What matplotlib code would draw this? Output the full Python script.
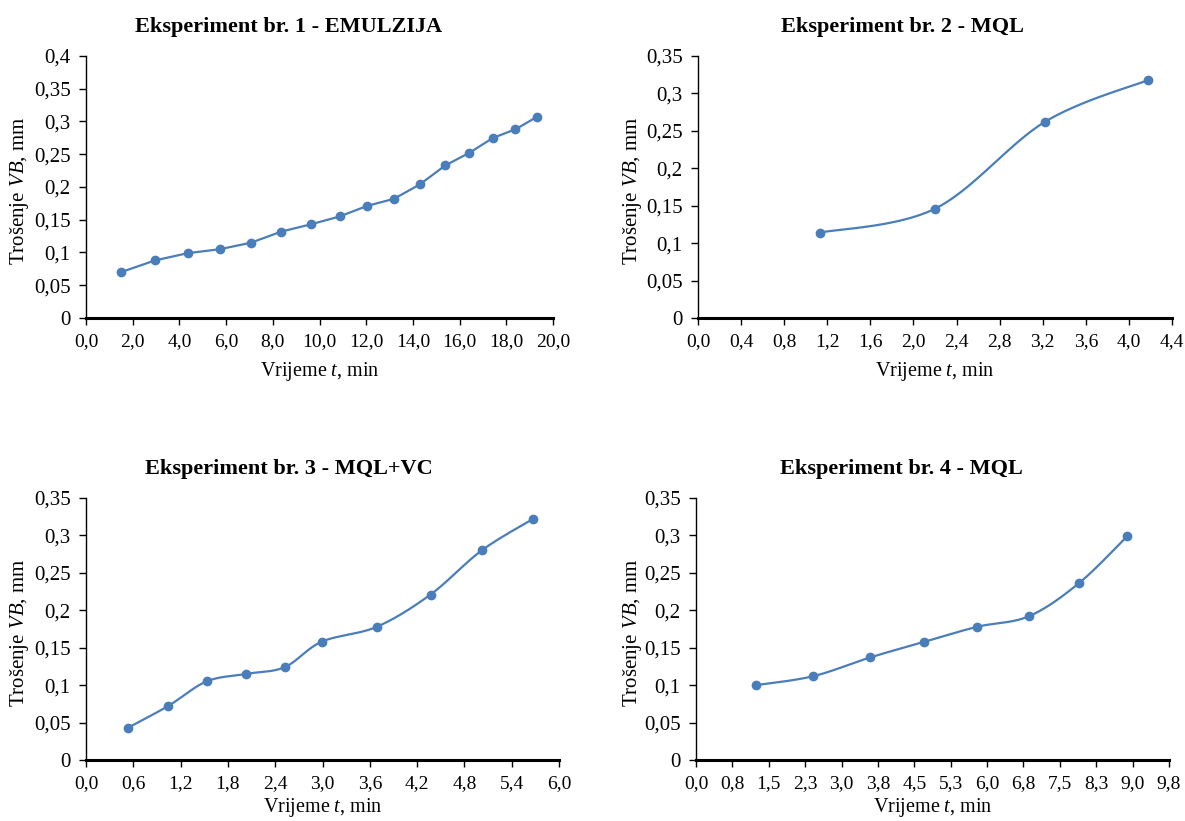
import numpy as np
import matplotlib
matplotlib.use("Agg")
import matplotlib.pyplot as plt

plt.rcParams['font.family'] = ['Liberation Serif', 'DejaVu Serif']
plt.rcParams['mathtext.fontset'] = 'custom'
plt.rcParams['mathtext.rm'] = 'Liberation Serif'
plt.rcParams['mathtext.it'] = 'Liberation Serif:italic'

# ---- data ----
t1 = [1.50, 2.96, 4.36, 5.73, 7.07, 8.37, 9.63, 10.86, 12.03, 13.19, 14.30, 15.39, 16.41, 17.43, 18.39, 19.31]
vb1 = [0.070, 0.088, 0.099, 0.105, 0.115, 0.132, 0.143, 0.155, 0.171, 0.182, 0.204, 0.233, 0.252, 0.275, 0.288, 0.307]

t2 = [1.13, 2.20, 3.22, 4.18]
vb2 = [0.114, 0.146, 0.262, 0.318]

t3 = [0.53, 1.04, 1.53, 2.03, 2.52, 2.99, 3.69, 4.37, 5.02, 5.67]
vb3 = [0.043, 0.072, 0.105, 0.115, 0.124, 0.158, 0.178, 0.221, 0.280, 0.322]

t4 = [1.24, 2.42, 3.59, 4.71, 5.80, 6.86, 7.89, 8.89]
vb4 = [0.100, 0.112, 0.137, 0.158, 0.178, 0.192, 0.236, 0.299]

titles = ["Eksperiment br. 1 - EMULZIJA", "Eksperiment br. 2 - MQL",
          "Eksperiment br. 3 - MQL+VC", "Eksperiment br. 4 - MQL"]

xticks1 = ["0,0", "2,0", "4,0", "6,0", "8,0", "10,0", "12,0", "14,0", "16,0", "18,0", "20,0"]
xticks2 = ["0,0", "0,4", "0,8", "1,2", "1,6", "2,0", "2,4", "2,8", "3,2", "3,6", "4,0", "4,4"]
xticks3 = ["0,0", "0,6", "1,2", "1,8", "2,4", "3,0", "3,6", "4,2", "4,8", "5,4", "6,0"]
xticks4 = ["0,0", "0,8", "1,5", "2,3", "3,0", "3,8", "4,5", "5,3", "6,0", "6,8", "7,5", "8,3", "9,0", "9,8"]

BLUE = '#4A7EBB'
W, H = 1185, 821


def smooth(x, y, n=30):
    """Excel-like smoothed line (Catmull-Rom as cubic Bezier)."""
    x = np.asarray(x, float); y = np.asarray(y, float)
    px, py = [x[0]], [y[0]]
    k = len(x)
    for i in range(k - 1):
        x0, y0 = (x[i - 1], y[i - 1]) if i > 0 else (x[i], y[i])
        x3, y3 = (x[i + 2], y[i + 2]) if i + 2 < k else (x[i + 1], y[i + 1])
        x1, y1, x2, y2 = x[i], y[i], x[i + 1], y[i + 1]
        c1x = x1 + (x2 - x0) / 6; c1y = y1 + (y2 - y0) / 6
        c2x = x2 - (x3 - x1) / 6; c2y = y2 - (y3 - y1) / 6
        s = np.linspace(0, 1, n)[1:]
        bx = (1 - s) ** 3 * x1 + 3 * (1 - s) ** 2 * s * c1x + 3 * (1 - s) * s ** 2 * c2x + s ** 3 * x2
        by = (1 - s) ** 3 * y1 + 3 * (1 - s) ** 2 * s * c1y + 3 * (1 - s) * s ** 2 * c2y + s ** 3 * y2
        px.extend(bx); py.extend(by)
    return np.array(px), np.array(py)


fig = plt.figure(figsize=(W / 100, H / 100), dpi=100)

# (left, right, top, bottom) in pixels
boxes = [(86, 553, 56, 318), (698, 1172, 56, 318), (86, 559, 498, 760), (696, 1169, 498, 760)]
series = [(t1, vb1), (t2, vb2), (t3, vb3), (t4, vb4)]
xlims = [(0, 20, 2.0), (0, 4.4, 0.4), (0, 6.0, 0.6), (0, 9.75, 0.75)]
ylims = [0.4, 0.35, 0.35, 0.35]
xtl = [xticks1, xticks2, xticks3, xticks4]
smooth_flag = [False, True, True, True]
title_x = [289, 902, 289, 901]
ylab_x = [20, 633, 20, 633]
xlab_pad = [7, 7, 3, 3]

for i in range(4):
    l, r, t, b = boxes[i]
    ax = fig.add_axes([l / W, 1 - b / H, (r - l) / W, (b - t) / H])
    x, y = series[i]
    if smooth_flag[i]:
        sx, sy = smooth(x, y)
    else:
        sx, sy = x, y
    ax.plot(sx, sy, color=BLUE, lw=1.6, solid_capstyle='round')
    ax.plot(x, y, 'o', color=BLUE, ms=6, mec=BLUE)
    x0, x1, dx = xlims[i]
    ax.set_xlim(x0, x1)
    xt = [x0 + dx * j for j in range(len(xtl[i]))]
    ax.set_xticks(xt)
    ax.set_xticklabels(xtl[i], fontsize=14)
    ym = ylims[i]
    yt = np.round(np.arange(0, ym + 1e-9, 0.05), 2)
    ax.set_ylim(0, ym)
    ax.set_yticks(yt)
    ax.set_yticklabels([f"{v:g}".replace('.', ',') for v in yt], fontsize=15)
    for s in ['top', 'right']:
        ax.spines[s].set_visible(False)
    ax.spines['bottom'].set_linewidth(2.2)
    ax.spines['left'].set_linewidth(1.0)
    ax.tick_params(axis='x', direction='out', length=5, width=1.0, pad=6)
    ax.tick_params(axis='y', direction='out', length=5, width=1.0, pad=6)
    ax.set_xlabel(r"Vrijeme $t$, min", fontsize=14.5, labelpad=xlab_pad[i])
    fig.text(title_x[i] / W, 1 - (t - 29) / H, titles[i], fontsize=16,
             fontweight='bold', ha='center', va='center')
    fig.text(ylab_x[i] / W, 1 - ((t + b) / 2 + 4) / H, r"Trošenje $VB$, mm", fontsize=15,
             rotation=90, ha='center', va='center')

fig.savefig("out.png", dpi=100)
